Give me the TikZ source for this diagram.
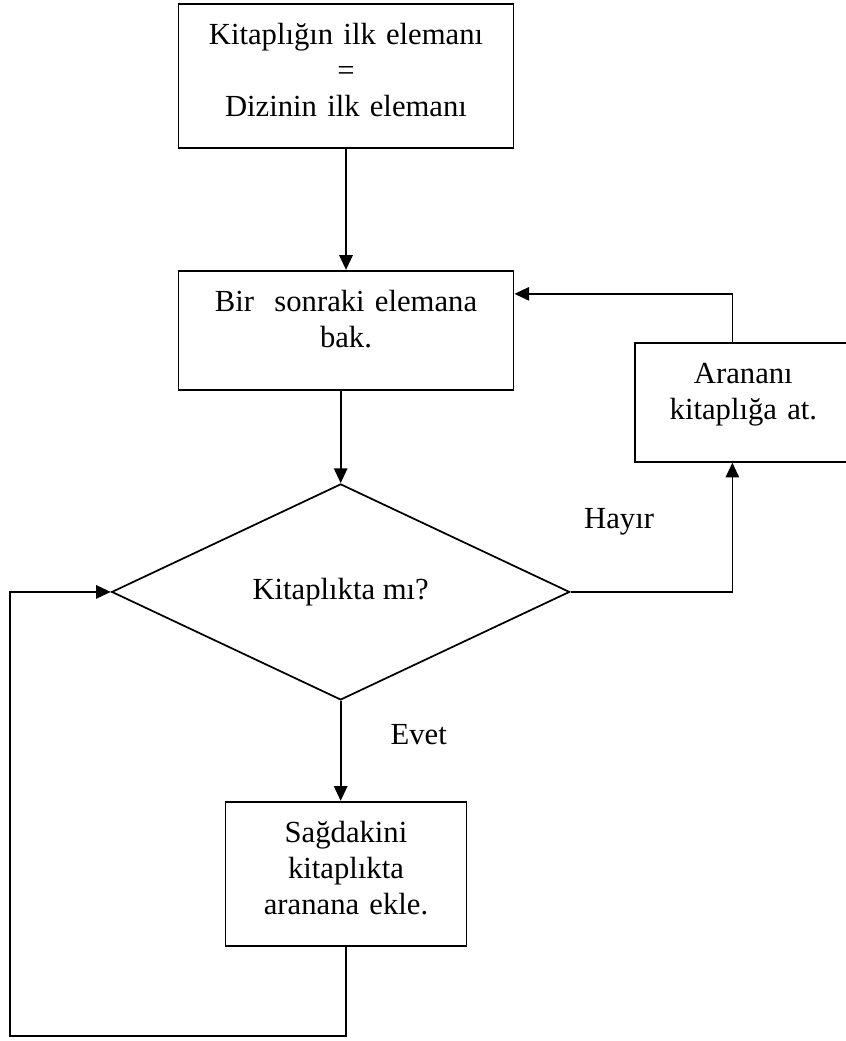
\documentclass[tikz,border=0pt]{standalone}
\usepackage{fontspec}
\setmainfont{Liberation Serif}
\usetikzlibrary{shapes.geometric, arrows.meta, positioning}
\tikzset{
    kutu/.style={
        draw, rectangle, line width=1.4pt, inner xsep=0pt, inner ysep=0pt, align=center, text height=30.5pt
    },
    karar/.style={
        draw, diamond, line width=1.3pt, minimum width=343.5pt, minimum height=162pt, inner sep=0pt
    },
    etiket/.style={
        anchor=base, inner sep=0pt
    },
    ok/.style={
        line width=1.3pt, -{Triangle[length=11pt,width=10pt]}
    },
    every node/.style={font=\fontsize{23}{27}\selectfont}
}
\begin{document}
\begin{tikzpicture}[x=0.75pt, y=-0.75pt]
    \useasboundingbox (0,0) rectangle (845,1041);

    % kutular
    \node (ilk) [kutu, text width=251.25pt, text depth=77.5pt, anchor=north] at (346,3) {Kitaplığın ilk elemanı\\=\\Dizinin ilk elemanı};
    \node (sonraki) [kutu, text width=251.25pt, text depth=59pt, below=90.75pt of ilk] {Bir\ \ sonraki elemana\\bak.};
    \node (karar) [karar, below=69pt of sonraki, xshift=-4pt] {Kitaplıkta mı?};
    \node (sagdaki) [kutu, text width=180.75pt, text depth=77.5pt, below=75pt of karar, xshift=4pt] {Sağdakini\\kitaplıkta\\aranana ekle.};
    \node (arama) [kutu, text width=162pt, text depth=58.75pt, right=90pt of sonraki.north east, anchor=north west, yshift=-54pt] {Arananı\\kitaplığa at.};
    \coordinate (dongu) at (10,1036);

    % oklar
    \draw [ok] (ilk) -- (sonraki);
    \draw [ok] (sonraki.south -| karar.north) -- (karar.north);
    \draw [ok] (karar.south) -- node[etiket, pos=0.44, xshift=58.5pt] {Evet} (karar.south |- sagdaki.north);
    \draw [ok] (karar.east) -| node[etiket, pos=0.15, yshift=47.25pt] {Hayır} ([xshift=-8.25pt]arama.south);
    \draw [ok] ([xshift=-8.25pt]arama.north) |- ([yshift=-18pt]sonraki.north east);
    \draw [ok] (sagdaki.south) |- (dongu) |- (karar.west);

\end{tikzpicture}
\end{document}
